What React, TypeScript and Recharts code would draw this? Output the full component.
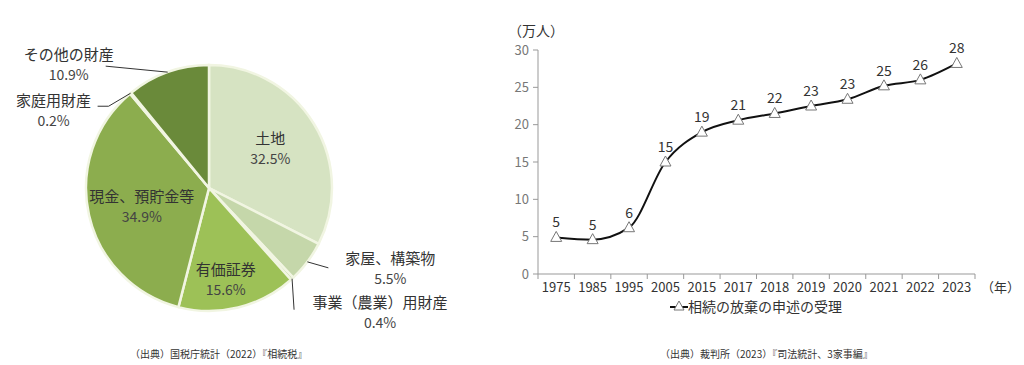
import { PieChart, Pie, Cell, LineChart, Line, XAxis, YAxis, LabelList } from "recharts";

const pieNames = ["土地", "家屋、構築物", "事業（農業）用財産", "有価証券", "現金、預貯金等", "家庭用財産", "その他の財産"];
const pieShares = [32.5, 5.5, 0.4, 15.6, 34.9, 0.2, 10.9];
const pieShareLabels = ["32.5%", "5.5%", "0.4%", "15.6%", "34.9%", "0.2%", "10.9%"];

const years = ["1975", "1985", "1995", "2005", "2015", "2017", "2018", "2019", "2020", "2021", "2022", "2023"];
const renunciations = [4.9, 4.6, 6.2, 15.0, 19.0, 20.6, 21.5, 22.5, 23.4, 25.2, 26.0, 28.2];
const pointLabels = ["5", "5", "6", "15", "19", "21", "22", "23", "23", "25", "26", "28"];
const yTicks = [0, 5, 10, 15, 20, 25, 30];

const seriesName = "相続の放棄の申述の受理";
const leftSource = "（出典）国税庁統計（2022）『相続税』";
const rightSource = "（出典）裁判所（2023）『司法統計、3家事編』";

const pieColors = ["#d6e3c2", "#c5d7aa", "#b9cf95", "#9dc157", "#8cad4e", "#b3ca80", "#6a8a3a"];

const pieData = pieNames.map((name, i) => ({ name, value: pieShares[i], pct: pieShareLabels[i] }));
const lineData = years.map((year, i) => ({ year, value: renunciations[i], label: pointLabels[i] }));

const FONT = '"Noto Sans CJK JP", "Noto Sans", sans-serif';
const RAD = Math.PI / 180;
const PLOT_W = 437;

// label placement per slice (inside: polar radius factor; outside: offsets from slice edge)
const labelLayout: any[] = [
  { inside: true, r: 0.585, dx: 0, dy: 0 },
  { inside: false, tx: 83, ty: 8, line: [[21, 6]] },
  { inside: false, tx: 88, ty: 35, line: [[2, 31]] },
  { inside: true, r: 0.78, dx: -6, dy: 0 },
  { inside: true, r: 0.56, dx: 0, dy: 5 },
  { inside: false, tx: -77, ty: 19, line: [[-22, 13], [-33, 13]] },
  { inside: false, tx: -99, ty: -6, line: [[-62, -6]] },
];

function PieLabel(props: any) {
  const { cx, cy, midAngle, outerRadius, index } = props;
  const cfg = labelLayout[index];
  const cos = Math.cos(-midAngle * RAD);
  const sin = Math.sin(-midAngle * RAD);
  let x: number, y: number;
  let path: string | null = null;
  if (cfg.inside) {
    x = cx + outerRadius * cfg.r * cos + cfg.dx;
    y = cy + outerRadius * cfg.r * sin + cfg.dy;
  } else {
    const ex = cx + outerRadius * cos;
    const ey = cy + outerRadius * sin;
    x = ex + cfg.tx;
    y = ey + cfg.ty;
    path = `M${ex},${ey}` + cfg.line.map((p: number[]) => ` L${ex + p[0]},${ey + p[1]}`).join("");
  }
  return (
    <g>
      {path && <path d={path} stroke="#333" strokeWidth={1} fill="none" />}
      <text x={x} y={y - 10} textAnchor="middle" dominantBaseline="middle" fontSize={15} fill="#333">
        {pieNames[index]}
      </text>
      <text x={x} y={y + 10} textAnchor="middle" dominantBaseline="middle" fontSize={14} fill="#444">
        {pieShareLabels[index]}
      </text>
    </g>
  );
}

function YearTick(props: any) {
  const { x, y, payload, index } = props;
  const band = PLOT_W / years.length;
  const axisY = y - 8;
  const last = index === years.length - 1;
  return (
    <g>
      <line x1={x - band / 2} x2={x - band / 2} y1={axisY} y2={axisY + 5} stroke="#999" />
      {last && <line x1={x + band / 2} x2={x + band / 2} y1={axisY} y2={axisY + 5} stroke="#999" />}
      <text x={x} y={y + 9.5} textAnchor="middle" fontSize={13} fill="#333">
        {payload.value}
      </text>
    </g>
  );
}

function TriangleDot(props: any) {
  const { cx, cy } = props;
  if (cx == null || cy == null) return null;
  return (
    <path
      d={`M${cx},${cy - 6} L${cx + 5.5},${cy + 4} L${cx - 5.5},${cy + 4} Z`}
      fill="#fff"
      stroke="#777"
      strokeWidth={1}
    />
  );
}

export default function App() {
  return (
    <div
      style={{
        position: "absolute",
        left: 0,
        top: 0,
        width: 1024,
        height: 365,
        background: "#fff",
        fontFamily: FONT,
        overflow: "hidden",
      }}
    >
      <div style={{ position: "absolute", left: 0, top: 0 }}>
        <PieChart width={470} height={340}>
          <Pie
            data={pieData}
            dataKey="value"
            nameKey="name"
            cx={204}
            cy={183}
            outerRadius={123}
            startAngle={90}
            endAngle={-270}
            stroke="#f1f5e2"
            strokeWidth={2.5}
            labelLine={false}
            label={PieLabel}
            isAnimationActive={false}
          >
            {pieData.map((d, i) => (
              <Cell key={d.name} fill={pieColors[i]} />
            ))}
          </Pie>
        </PieChart>
      </div>

      <div style={{ position: "absolute", left: 470, top: 0 }}>
        <LineChart width={554} height={365} data={lineData} margin={{ top: 50, right: 49, bottom: 61, left: 0 }}>
          <XAxis
            dataKey="year"
            scale="band"
            interval={0}
            height={30}
            axisLine={{ stroke: "#999" }}
            tickLine={false}
            tick={<YearTick />}
          />
          <YAxis
            domain={[0, 30]}
            ticks={yTicks}
            width={68}
            axisLine={{ stroke: "#999" }}
            tickLine={{ stroke: "#999" }}
            tickSize={5}
            tickMargin={4}
            tick={{ fill: "#777", fontSize: 13 }}
          />
          <Line
            type="monotone"
            dataKey="value"
            stroke="#111"
            strokeWidth={2}
            dot={<TriangleDot />}
            activeDot={false}
            isAnimationActive={false}
          >
            <LabelList dataKey="label" position="top" offset={10} fontSize={14} fill="#333" />
          </Line>
        </LineChart>
      </div>

      <div style={{ position: "absolute", left: 508, top: 22, fontSize: 14, lineHeight: "16px", color: "#333" }}>（万人）</div>
      <div style={{ position: "absolute", left: 981, top: 279, fontSize: 13, lineHeight: "15px", color: "#333" }}>（年）</div>

      <div
        style={{
          position: "absolute",
          left: 670,
          top: 296,
          display: "flex",
          alignItems: "center",
          fontSize: 14,
          color: "#333",
        }}
      >
        <svg width={18} height={14}>
          <line x1={0} x2={18} y1={8} y2={8} stroke="#111" strokeWidth={2} />
          <path d="M9,2 L14,11 L4,11 Z" fill="#fff" stroke="#777" />
        </svg>
        <span>{seriesName}</span>
      </div>

      <div style={{ position: "absolute", left: 130, top: 346, fontSize: 10, color: "#333" }}>{leftSource}</div>
      <div style={{ position: "absolute", left: 660, top: 346, fontSize: 10, color: "#333" }}>{rightSource}</div>
    </div>
  );
}
